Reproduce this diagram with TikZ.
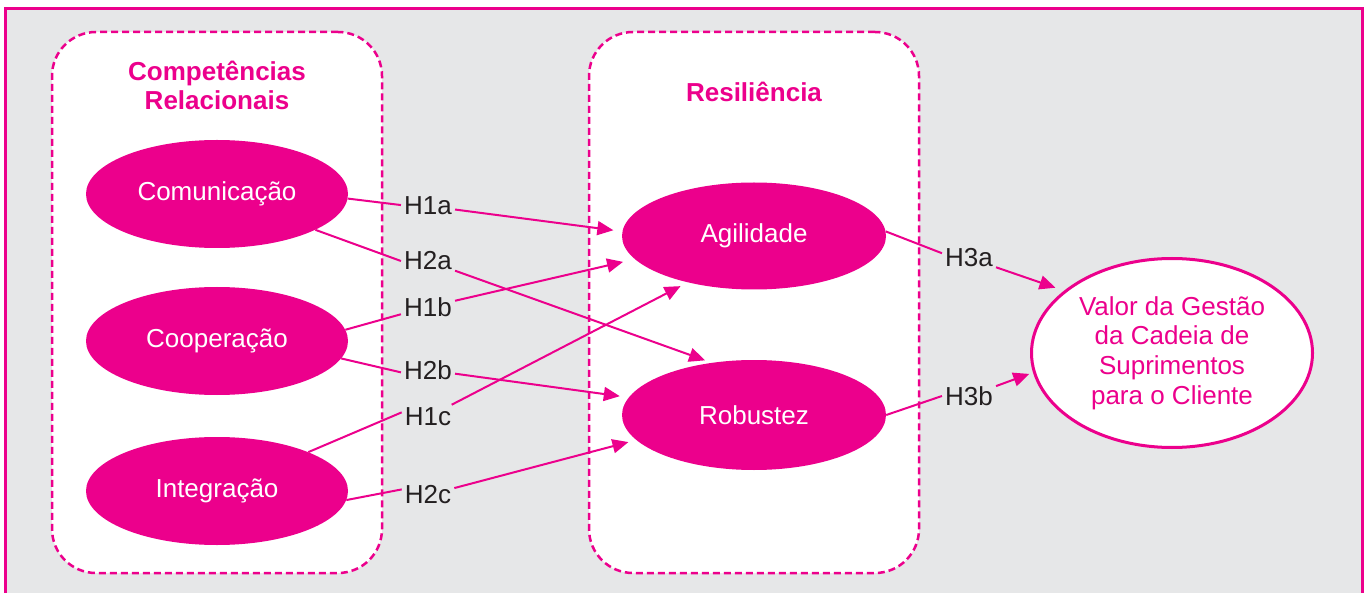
\documentclass[tikz,border=0pt]{standalone}
\usepackage{fontspec}
\setmainfont{Liberation Sans}
\usetikzlibrary{shapes.geometric,arrows.meta}
\definecolor{mag}{HTML}{EC008C}
\definecolor{bggrey}{HTML}{E6E7E8}
\definecolor{txt}{HTML}{231F20}
\begin{document}
\begin{tikzpicture}[x=1pt,y=-1pt,
  construct/.style={ellipse, fill=mag, inner sep=0pt, text=white,
    minimum width=262pt, minimum height=108pt,
    font=\fontsize{26}{29.5}\selectfont},
  final/.style={ellipse, draw=mag, line width=3pt, fill=white, inner sep=0pt,
    text=mag, align=center, minimum width=281pt, minimum height=189pt,
    font=\fontsize{26}{29.7}\selectfont},
  hyp/.style={inner sep=3pt, text=txt, font=\fontsize{26}{29.5}\selectfont},
  link/.style={draw=mag, line width=2pt},
  arr/.style={link, -{Triangle[length=16pt,width=14pt]}},
  group/.style={draw=mag, line width=2.5pt, dash pattern=on 7pt off 4pt,
    rounded corners=44pt, fill=white, inner sep=0pt},
  grouptitle/.style={text=mag, align=center,
    font=\bfseries\fontsize{26}{29}\selectfont},
]
\useasboundingbox (0,0) rectangle (1367,593);
\fill[white] (0,0) rectangle (1367,593);
\draw[mag, line width=3pt, fill=bggrey] (5,8.5) rectangle (1362,620);

% groups
\node[group, minimum width=330pt, minimum height=541pt] (gcomp) at (217,302.5) {};
\node[group, minimum width=330pt, minimum height=541pt] (gres) at (754,302.5) {};
\node[grouptitle] (tcomp) at (217,85) {Competências\\Relacionais};
\node[grouptitle] (tres) at (754,92) {Resiliência};

% constructs
\node[construct] (comm) at (217,194) {Comunicação};
\node[construct] (coop) at (217,341) {Cooperação};
\node[construct] (integ) at (217,491) {Integração};
\node[construct, minimum width=264pt, minimum height=107pt] (agil) at (754,236) {Agilidade};
\node[construct, minimum width=264pt, minimum height=110pt] (rob) at (754,415) {Robustez};
\node[final] (valor) at (1172,353) {Valor da Gestão\\da Cadeia de\\Suprimentos\\para o Cliente};

% hypotheses
\node[hyp] (h1a) at (428,206) {H1a};
\node[hyp] (h2a) at (428,261) {H2a};
\node[hyp] (h1b) at (428,307) {H1b};
\node[hyp] (h2b) at (428,370) {H2b};
\node[hyp] (h1c) at (428,417) {H1c};
\node[hyp] (h2c) at (428,495) {H2c};
\node[hyp] (h3a) at (969,258) {H3a};
\node[hyp] (h3b) at (969,396) {H3b};

% connectors
\draw[link] (comm.-2) -- (h1a.178);
\draw[link] (comm) -- (h2a.west);
\draw[link] (coop.5) -- (h1b.195);
\draw[link] (coop.-8) -- (h2b.185);
\draw[link] (integ) -- (h1c.170);
\draw[link] (integ.-4) -- (h2c.168);
\draw[link] (agil.2) -- (h3a.170);
\draw[link] (rob.east) -- (h3b.west);

\draw[arr, shorten >=9pt] (h1a) -- (agil.178);
\draw[arr, shorten >=7pt] (h2a) -- (rob.129);
\draw[arr, shorten >=12pt] (h1b) -- (agil.191);
\draw[arr, shorten >=9pt] (h2b) -- (rob.172);
\draw[arr, shorten >=8pt] (h1c) -- (agil.215);
\draw[arr, shorten >=8pt] (h2c) -- (rob.192);
\draw[arr, shorten >=9pt] (h3a) -- (valor.150);
\draw[arr, shorten >=4pt] (h3b) -- (valor.188);
\end{tikzpicture}
\end{document}
